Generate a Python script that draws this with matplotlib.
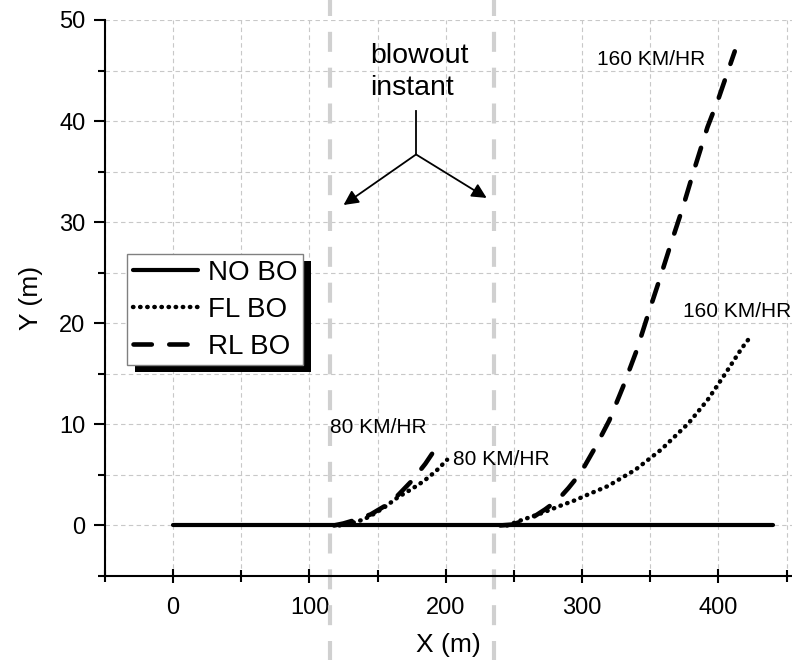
import matplotlib
matplotlib.use("Agg")
import matplotlib.pyplot as plt
from matplotlib.patches import Rectangle
from matplotlib.ticker import MultipleLocator

plt.rcParams['font.family'] = ['Liberation Sans', 'DejaVu Sans']

# -----------------------------
# Data
# -----------------------------
no_bo_x = [0, 440]
no_bo_y = [0, 0]

fl80_x = [122, 130, 140, 148, 155, 165, 175, 184, 193, 201]
fl80_y = [0.0, 0.2, 0.6, 1.2, 1.8, 2.8, 3.6, 4.4, 5.4, 6.5]

rl80_x = [118, 125, 135, 145, 155, 165, 175, 185, 196]
rl80_y = [0.0, 0.2, 0.6, 1.1, 1.9, 3.0, 4.4, 6.1, 8.3]

fl160_x = [245, 255, 270, 285, 295, 305, 319, 339, 358, 378, 392, 405, 417, 422]
fl160_y = [0.0, 0.5, 1.2, 2.0, 2.5, 3.1, 3.9, 5.5, 7.5, 10.1, 12.4, 15.0, 17.5, 18.4]

rl160_x = [240, 250, 258, 265, 273, 282, 290, 299, 310, 320, 330, 340, 348,
           357, 365, 374, 382, 392, 400, 412]
rl160_y = [0.0, 0.1, 0.6, 0.9, 1.6, 2.5, 3.7, 5.2, 7.8, 10.4, 13.7, 17.3, 20.7,
           24.4, 27.8, 31.5, 35.1, 39.4, 42.2, 46.9]

blowout_x = [115, 235.7]

# -----------------------------
# Figure
# -----------------------------
fig = plt.figure(figsize=(7.92, 6.6), dpi=100)
ax = fig.add_axes([105 / 792, 1 - 576 / 660, 1 - 105 / 792, (576 - 20) / 660])

ax.set_xlim(-50, 454)
ax.set_ylim(-5, 50)

ax.xaxis.set_major_locator(MultipleLocator(100))
ax.xaxis.set_minor_locator(MultipleLocator(50))
ax.yaxis.set_major_locator(MultipleLocator(10))
ax.yaxis.set_minor_locator(MultipleLocator(5))

ax.spines['top'].set_visible(False)
ax.spines['right'].set_visible(False)
ax.spines['left'].set_linewidth(1.5)
ax.spines['bottom'].set_linewidth(1.5)

ax.tick_params(axis='both', which='both', width=1.5, labelsize=17)
ax.tick_params(axis='y', which='major', direction='out', length=8, pad=6)
ax.tick_params(axis='y', which='minor', direction='out', length=5)
ax.tick_params(axis='x', which='major', direction='inout', length=10, pad=10)
ax.tick_params(axis='x', which='minor', direction='inout', length=8)

ax.grid(True, which='both', color='#c8c8c8', linestyle=(0, (4, 3)), linewidth=0.8)
ax.set_axisbelow(True)

ax.set_xlabel("X (m)", fontsize=19, labelpad=10)
ax.set_ylabel("Y (m)", fontsize=19, labelpad=12)

# blowout instants (gray dashed, running over the whole figure height)
for bx in blowout_x:
    ax.axvline(bx, ymin=-0.16, ymax=1.04, color='#d0d0d0', linewidth=3,
               linestyle=(0, (4.8, 3.8)), clip_on=False, zorder=1.5)

# trajectories
dots = (0, (0.1, 1.5))
dashes = (0, (4.0, 3.8))
ax.plot(no_bo_x, no_bo_y, color='black', linewidth=3, solid_capstyle='round',
        label='NO BO', zorder=3)
ax.plot(fl80_x, fl80_y, color='black', linewidth=3.2, linestyle=dots,
        dash_capstyle='round', label='FL BO', zorder=3)
ax.plot(fl160_x, fl160_y, color='black', linewidth=3.2, linestyle=dots,
        dash_capstyle='round', zorder=3)
ax.plot(rl80_x, rl80_y, color='black', linewidth=3.3, linestyle=dashes,
        dash_capstyle='round', label='RL BO', zorder=3)
ax.plot(rl160_x, rl160_y, color='black', linewidth=3.3, linestyle=dashes,
        dash_capstyle='round', zorder=3)

# speed labels
ax.text(115, 9.7, "80 KM/HR", fontsize=15, va='center', ha='left')
ax.text(205.5, 6.5, "80 KM/HR", fontsize=15, va='center', ha='left')
ax.text(311, 46.05, "160 KM/HR", fontsize=15, va='center', ha='left')
ax.text(374, 21.2, "160 KM/HR", fontsize=15, va='center', ha='left')

# blowout instant annotation
ax.text(144.6, 44.9, "blowout\ninstant", fontsize=20.5, va='center', ha='left',
        linespacing=1.3)
ax.plot([178.2, 178.2], [40.95, 36.7], color='black', linewidth=1.3)
for tip in [(125, 31.7), (230, 32.4)]:
    ax.annotate("", xy=tip, xytext=(178.2, 36.7),
                arrowprops=dict(arrowstyle='-|>', color='black', lw=1.3,
                                mutation_scale=22, shrinkA=0, shrinkB=0))

# legend with solid black shadow
leg = ax.legend(loc='upper left', bbox_to_anchor=(127 / 792, 1 - 254 / 660),
                bbox_transform=fig.transFigure, fontsize=20, frameon=True,
                fancybox=False, framealpha=1, edgecolor='#808080',
                handlelength=2.35, handletextpad=0.35, borderpad=0.2,
                labelspacing=0.4, borderaxespad=0)
leg.get_frame().set_linewidth(1)
leg.set_zorder(6)

fig.canvas.draw()
bb = leg.get_window_extent()
inv = ax.transAxes.inverted()
(x0, y0), (x1, y1) = inv.transform([(bb.x0 + 8, bb.y0 - 7), (bb.x1 + 8, bb.y1 - 7)])
shadow = Rectangle((x0, y0), x1 - x0, y1 - y0, transform=ax.transAxes,
                   facecolor='black', edgecolor='none', zorder=5.9, clip_on=False)
ax.add_artist(shadow)

fig.savefig("out.png", dpi=100)
